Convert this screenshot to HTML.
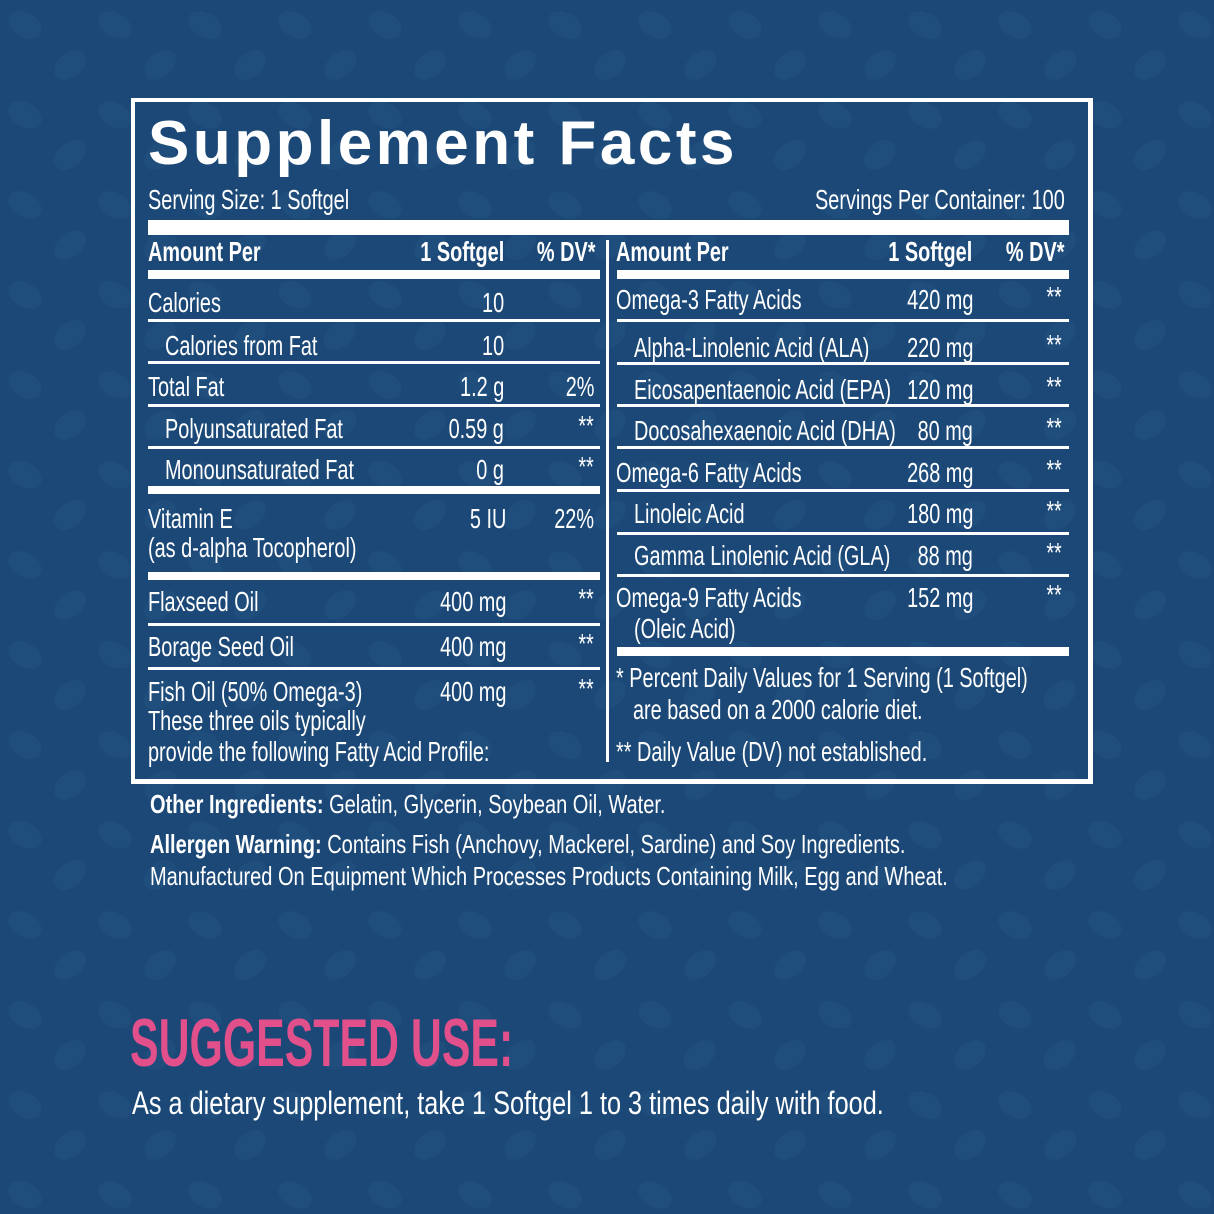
<!DOCTYPE html>
<html><head><meta charset="utf-8"><style>
html,body{margin:0;padding:0}
body{width:1214px;height:1214px;background:#1b4876;position:relative;overflow:hidden;font-family:"Liberation Sans",sans-serif;color:#fff}
.t{position:absolute;white-space:nowrap;font-size:28px;line-height:32px;transform:scaleX(.71);transform-origin:left center}
.r{position:absolute;white-space:nowrap;font-size:28px;line-height:32px;transform:scaleX(.71);transform-origin:right center;text-align:right}
.b{font-weight:bold}
.l{position:absolute;background:#fff}
</style></head><body>
<svg width="1214" height="1214" style="position:absolute;left:0;top:0">
<defs><pattern id="p" width="90" height="90" patternUnits="userSpaceOnUse">
<ellipse cx="25" cy="25" rx="18" ry="12" fill="#1f4e7d" transform="rotate(30 25 25)"/>
<ellipse cx="70" cy="65" rx="18" ry="12" fill="#1f4e7d" transform="rotate(-40 70 65)"/>
</pattern></defs>
<rect width="1214" height="1214" fill="url(#p)"/>
</svg>
<div style="position:absolute;left:131px;top:98px;width:953px;height:677px;border:4px solid #fff;border-right-width:5px;border-bottom-width:5px"></div>
<div style="position:absolute;left:148px;top:108px;font-size:62px;font-weight:bold;line-height:72px;letter-spacing:3.5px;white-space:nowrap">Supplement Facts</div>
<div class="t" style="left:148px;top:184px">Serving Size: 1 Softgel</div>
<div class="r" style="right:149px;top:184px">Servings Per Container: 100</div>
<div class="l" style="left:148px;top:220px;width:921px;height:15px"></div>
<div class="l" style="left:606px;top:240px;width:3px;height:522px"></div>
<div class="t b" style="left:148px;top:236px">Amount Per</div>
<div class="r b" style="right:710px;top:236px">1 Softgel</div>
<div class="r b" style="right:619px;top:236px">% DV*</div>
<div class="t b" style="left:616px;top:236px">Amount Per</div>
<div class="r b" style="right:242px;top:236px">1 Softgel</div>
<div class="r b" style="right:150px;top:236px">% DV*</div>
<div class="l" style="left:148px;top:270px;width:452px;height:9px"></div>
<div class="l" style="left:617px;top:270px;width:452px;height:9px"></div>
<div class="l" style="left:148px;top:319px;width:452px;height:3px"></div>
<div class="l" style="left:148px;top:361px;width:452px;height:3px"></div>
<div class="l" style="left:148px;top:404px;width:452px;height:3px"></div>
<div class="l" style="left:148px;top:446px;width:452px;height:3px"></div>
<div class="l" style="left:148px;top:486px;width:452px;height:8px"></div>
<div class="l" style="left:148px;top:572px;width:452px;height:8px"></div>
<div class="l" style="left:148px;top:623px;width:452px;height:3px"></div>
<div class="l" style="left:148px;top:667px;width:452px;height:3px"></div>
<div class="l" style="left:617px;top:319px;width:452px;height:3px"></div>
<div class="l" style="left:617px;top:362px;width:452px;height:3px"></div>
<div class="l" style="left:617px;top:404px;width:452px;height:3px"></div>
<div class="l" style="left:617px;top:446px;width:452px;height:3px"></div>
<div class="l" style="left:617px;top:489px;width:452px;height:3px"></div>
<div class="l" style="left:617px;top:532px;width:452px;height:3px"></div>
<div class="l" style="left:617px;top:574px;width:452px;height:3px"></div>
<div class="l" style="left:617px;top:647px;width:452px;height:9px"></div>
<div class="t" style="left:148px;top:287px">Calories</div><div class="r" style="right:710px;top:287px">10</div>
<div class="t" style="left:165px;top:330px">Calories from Fat</div><div class="r" style="right:710px;top:330px">10</div>
<div class="t" style="left:148px;top:371px">Total Fat</div><div class="r" style="right:710px;top:371px">1.2 g</div><div class="r" style="right:620px;top:371px">2%</div>
<div class="t" style="left:165px;top:413px">Polyunsaturated Fat</div><div class="r" style="right:710px;top:413px">0.59 g</div><div class="r" style="right:620px;top:410px">**</div>
<div class="t" style="left:165px;top:454px">Monounsaturated Fat</div><div class="r" style="right:710px;top:454px">0 g</div><div class="r" style="right:620px;top:451px">**</div>
<div class="t" style="left:148px;top:503px">Vitamin E</div><div class="r" style="right:708px;top:503px">5 IU</div><div class="r" style="right:620px;top:503px">22%</div>
<div class="t" style="left:148px;top:532px">(as d-alpha Tocopherol)</div>
<div class="t" style="left:148px;top:586px">Flaxseed Oil</div><div class="r" style="right:708px;top:586px">400 mg</div><div class="r" style="right:620px;top:583px">**</div>
<div class="t" style="left:148px;top:631px">Borage Seed Oil</div><div class="r" style="right:708px;top:631px">400 mg</div><div class="r" style="right:620px;top:628px">**</div>
<div class="t" style="left:148px;top:676px">Fish Oil (50% Omega-3)</div><div class="r" style="right:708px;top:676px">400 mg</div><div class="r" style="right:620px;top:673px">**</div>
<div class="t" style="left:148px;top:705px">These three oils typically</div>
<div class="t" style="left:148px;top:736px">provide the following Fatty Acid Profile:</div>
<div class="t" style="left:616px;top:284px">Omega-3 Fatty Acids</div><div class="r" style="right:241px;top:284px">420 mg</div><div class="r" style="right:152px;top:281px">**</div>
<div class="t" style="left:634px;top:332px">Alpha-Linolenic Acid (ALA)</div><div class="r" style="right:241px;top:332px">220 mg</div><div class="r" style="right:152px;top:329px">**</div>
<div class="t" style="left:634px;top:374px">Eicosapentaenoic Acid (EPA)</div><div class="r" style="right:241px;top:374px">120 mg</div><div class="r" style="right:152px;top:371px">**</div>
<div class="t" style="left:634px;top:415px">Docosahexaenoic Acid (DHA)</div><div class="r" style="right:241px;top:415px">80 mg</div><div class="r" style="right:152px;top:412px">**</div>
<div class="t" style="left:616px;top:457px">Omega-6 Fatty Acids</div><div class="r" style="right:241px;top:457px">268 mg</div><div class="r" style="right:152px;top:454px">**</div>
<div class="t" style="left:634px;top:498px">Linoleic Acid</div><div class="r" style="right:241px;top:498px">180 mg</div><div class="r" style="right:152px;top:495px">**</div>
<div class="t" style="left:634px;top:540px">Gamma Linolenic Acid (GLA)</div><div class="r" style="right:241px;top:540px">88 mg</div><div class="r" style="right:152px;top:537px">**</div>
<div class="t" style="left:616px;top:582px">Omega-9 Fatty Acids</div><div class="r" style="right:241px;top:582px">152 mg</div><div class="r" style="right:152px;top:579px">**</div>
<div class="t" style="left:634px;top:613px">(Oleic Acid)</div>
<div class="t" style="left:616px;top:662px">* Percent Daily Values for 1 Serving (1 Softgel)</div>
<div class="t" style="left:633px;top:694px">are based on a 2000 calorie diet.</div>
<div class="t" style="left:616px;top:736px">** Daily Value (DV) not established.</div>
<div class="t" style="left:150px;top:788px;font-size:26px;transform:scaleX(.77)"><b>Other Ingredients:</b> Gelatin, Glycerin, Soybean Oil, Water.</div>
<div class="t" style="left:150px;top:828px;font-size:26px;transform:scaleX(.77)"><b>Allergen Warning:</b> Contains Fish (Anchovy, Mackerel, Sardine) and Soy Ingredients.</div>
<div class="t" style="left:150px;top:860px;font-size:26px;transform:scaleX(.77)">Manufactured On Equipment Which Processes Products Containing Milk, Egg and Wheat.</div>
<div class="t b" style="left:130px;top:1003px;font-size:68px;line-height:80px;color:#e2508c;transform:scaleX(.63)">SUGGESTED USE:</div>
<div class="t" style="left:132px;top:1084px;font-size:32px;line-height:38px;transform:scaleX(.79)">As a dietary supplement, take 1 Softgel 1 to 3 times daily with food.</div>
</body></html>
